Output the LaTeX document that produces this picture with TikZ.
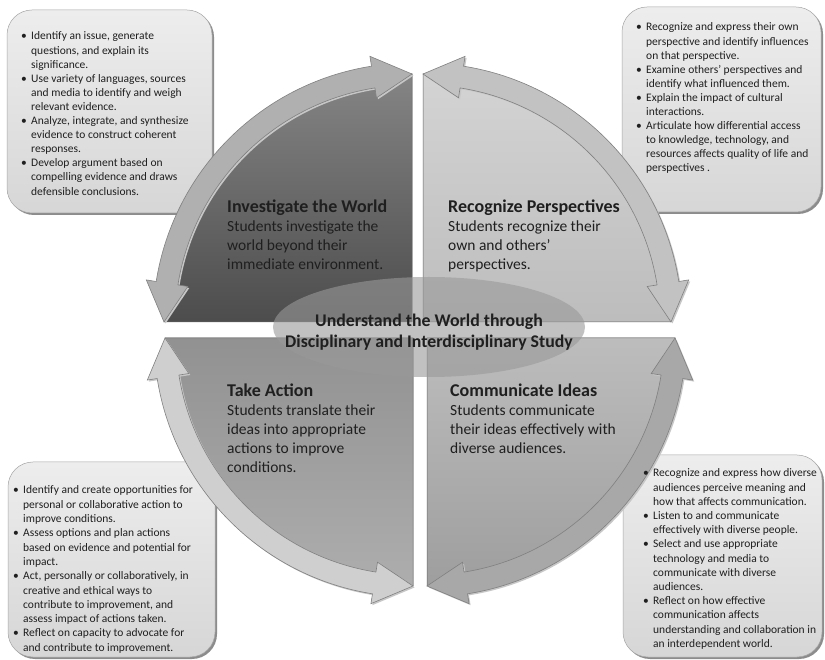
\documentclass[tikz,border=0pt]{standalone}
\usepackage{fontspec}
\setmainfont{Carlito}
\usetikzlibrary{shadows,shapes.geometric}
\definecolor{txt}{gray}{0.12}
\definecolor{tlA}{gray}{0.52}\definecolor{tlB}{gray}{0.30}
\definecolor{trA}{gray}{0.83}\definecolor{trB}{gray}{0.74}
\definecolor{blA}{gray}{0.57}\definecolor{blB}{gray}{0.68}
\definecolor{brA}{gray}{0.74}\definecolor{brB}{gray}{0.62}
\definecolor{tlBand}{gray}{0.69}
\definecolor{trBand}{gray}{0.76}
\definecolor{blBand}{gray}{0.81}
\definecolor{brBand}{gray}{0.66}
\definecolor{boxTop}{gray}{0.93}
\definecolor{boxBot}{gray}{0.84}
\definecolor{ellFill}{gray}{0.6}
\newcommand\bl{\makebox[10pt][l]{•}}
\newcommand\ct{\hspace*{10pt}}
\def\Rm{248}\def\Ri{237}\def\Ro{259}\def\Rhi{227}\def\Rho{269}\def\Ha{9}
\newcommand\quadrant[5]{%
 \begin{scope}[shift={(#1)}]
  \filldraw[sector,#4] (0,0) -- (#2:\Rm) arc[start angle=#2, end angle=#3, radius=\Rm] -- cycle;
  \pgfmathsetmacro\ba{#2+\Ha}\pgfmathsetmacro\bb{#3-\Ha}
  \filldraw[band, fill=#5] (#2:\Rm) -- (\ba:\Rho) -- (\ba:\Ro)
    arc[start angle=\ba, end angle=\bb, radius=\Ro] -- (\bb:\Rho) -- (#3:\Rm)
    -- (\bb:\Rhi) -- (\bb:\Ri) arc[start angle=\bb, end angle=\ba, radius=\Ri]
    -- (\ba:\Rhi) -- cycle;
 \end{scope}}
\begin{document}
\begin{tikzpicture}[x=1pt,y=1pt,
  sector/.style={draw=black!60, line width=0.5pt},
  band/.style={draw=black!50, line width=0.6pt, general shadow={fill=black!22, shadow xshift=1.5pt, shadow yshift=-1.5pt}},
  infobox/.style={rectangle, rounded corners=25pt, draw=black!35, line width=0.5pt,
     top color=boxTop, bottom color=boxBot,
     general shadow={fill=black!45, shadow xshift=2pt, shadow yshift=-2pt}},
  listtext/.style={anchor=base west, inner sep=0pt, text=txt},
  qtitle/.style={anchor=base west, inner sep=0pt, text=txt, font=\bfseries\fontsize{18}{21}\selectfont},
  qbody/.style={anchor=base west, inner sep=0pt, text=txt}]
\useasboundingbox (0,0) rectangle (825,659);
\fill[white] (0,0) rectangle (825,659);

% info boxes
\node[infobox, minimum width=205pt, minimum height=203pt] (tlbox) at (109.5,547.5) {};
\node[infobox, minimum width=199pt, minimum height=205pt] (trbox) at (721.5,549.5) {};
\node[infobox, minimum width=207pt, minimum height=195pt] (blbox) at (111.5,99.5) {};
\node[infobox, minimum width=199pt, minimum height=202pt] (brbox) at (722.5,103) {};

% quadrants
\coordinate (cTL) at (412,337);
\coordinate (cTR) at (423,337);
\coordinate (cBL) at (413,321);
\coordinate (cBR) at (427,321);
\quadrant{cTL}{90}{180}{top color=tlA, bottom color=tlB}{tlBand}
\quadrant{cTR}{0}{90}{top color=trA, bottom color=trB}{trBand}
\quadrant{cBL}{180}{270}{top color=blA, bottom color=blB}{blBand}
\quadrant{cBR}{270}{360}{top color=brA, bottom color=brB}{brBand}

% centre ellipse
\node[ellipse, minimum width=312pt, minimum height=100pt, fill=ellFill, fill opacity=0.6, inner sep=0pt] (centre) at (429,332) {};
\node[anchor=base, inner sep=0pt, text=txt] (centretext) at (429,332)
 {\parbox[t]{330pt}{\centering\bfseries\fontsize{17.8}{21}\selectfont Understand the World through\\Disciplinary and Interdisciplinary Study}};

% quadrant texts
\node[qtitle] (tltitle) at (227,446) {Investigate the World};
\node[qbody] (tlbody) at (227,427) {\parbox[t]{180pt}{\raggedright\fontsize{15.5}{19}\selectfont Students investigate the\\world beyond their\\immediate environment.}};
\node[qtitle] (trtitle) at (448,446) {Recognize Perspectives};
\node[qbody] (trbody) at (448,427) {\parbox[t]{180pt}{\raggedright\fontsize{15.5}{19}\selectfont Students recognize their\\own and others’\\perspectives.}};
\node[qtitle] (bltitle) at (227,262) {Take Action};
\node[qbody] (blbody) at (227,243) {\parbox[t]{180pt}{\raggedright\fontsize{15.5}{19}\selectfont Students translate their\\ideas into appropriate\\actions to improve\\conditions.}};
\node[qtitle] (brtitle) at (450,262) {Communicate Ideas};
\node[qbody] (brbody) at (450,243) {\parbox[t]{180pt}{\raggedright\fontsize{15.5}{19}\selectfont Students communicate\\their ideas effectively with\\diverse audiences.}};

% lists
\node[listtext] (tllist) at (21,619) {\parbox[t]{210pt}{\raggedright\fontsize{11.5}{14.1}\selectfont
\bl Identify an issue, generate\\
\ct questions, and explain its\\
\ct significance.\\
\bl Use variety of languages, sources\\
\ct and media to identify and weigh\\
\ct relevant evidence.\\
\bl Analyze, integrate, and synthesize\\
\ct evidence to construct coherent\\
\ct responses.\\
\bl Develop argument based on\\
\ct compelling evidence and draws\\
\ct defensible conclusions.}};
\node[listtext] (trlist) at (636,628) {\parbox[t]{190pt}{\raggedright\fontsize{11.5}{14.1}\selectfont
\bl Recognize and express their own\\
\ct perspective and identify influences\\
\ct on that perspective.\\
\bl Examine others’ perspectives and\\
\ct identify what influenced them.\\
\bl Explain the impact of cultural\\
\ct interactions.\\
\bl Articulate how differential access\\
\ct to knowledge, technology, and\\
\ct resources affects quality of life and\\
\ct perspectives .}};
\node[listtext] (bllist) at (13,165) {\parbox[t]{210pt}{\raggedright\fontsize{11.5}{14.3}\selectfont
\bl Identify and create opportunities for\\
\ct personal or collaborative action to\\
\ct improve conditions.\\
\bl Assess options and plan actions\\
\ct based on evidence and potential for\\
\ct impact.\\
\bl Act, personally or collaboratively, in\\
\ct creative and ethical ways to\\
\ct contribute to improvement, and\\
\ct assess impact of actions taken.\\
\bl Reflect on capacity to advocate for\\
\ct and contribute to improvement.}};
\node[listtext] (brlist) at (643,182) {\parbox[t]{190pt}{\raggedright\fontsize{11.5}{14.2}\selectfont
\bl Recognize and express how diverse\\
\ct audiences perceive meaning and\\
\ct how that affects communication.\\
\bl Listen to and communicate\\
\ct effectively with diverse people.\\
\bl Select and use appropriate\\
\ct technology and media to\\
\ct communicate with diverse\\
\ct audiences.\\
\bl Reflect on how effective\\
\ct communication affects\\
\ct understanding and collaboration in\\
\ct an interdependent world.}};
\end{tikzpicture}
\end{document}
